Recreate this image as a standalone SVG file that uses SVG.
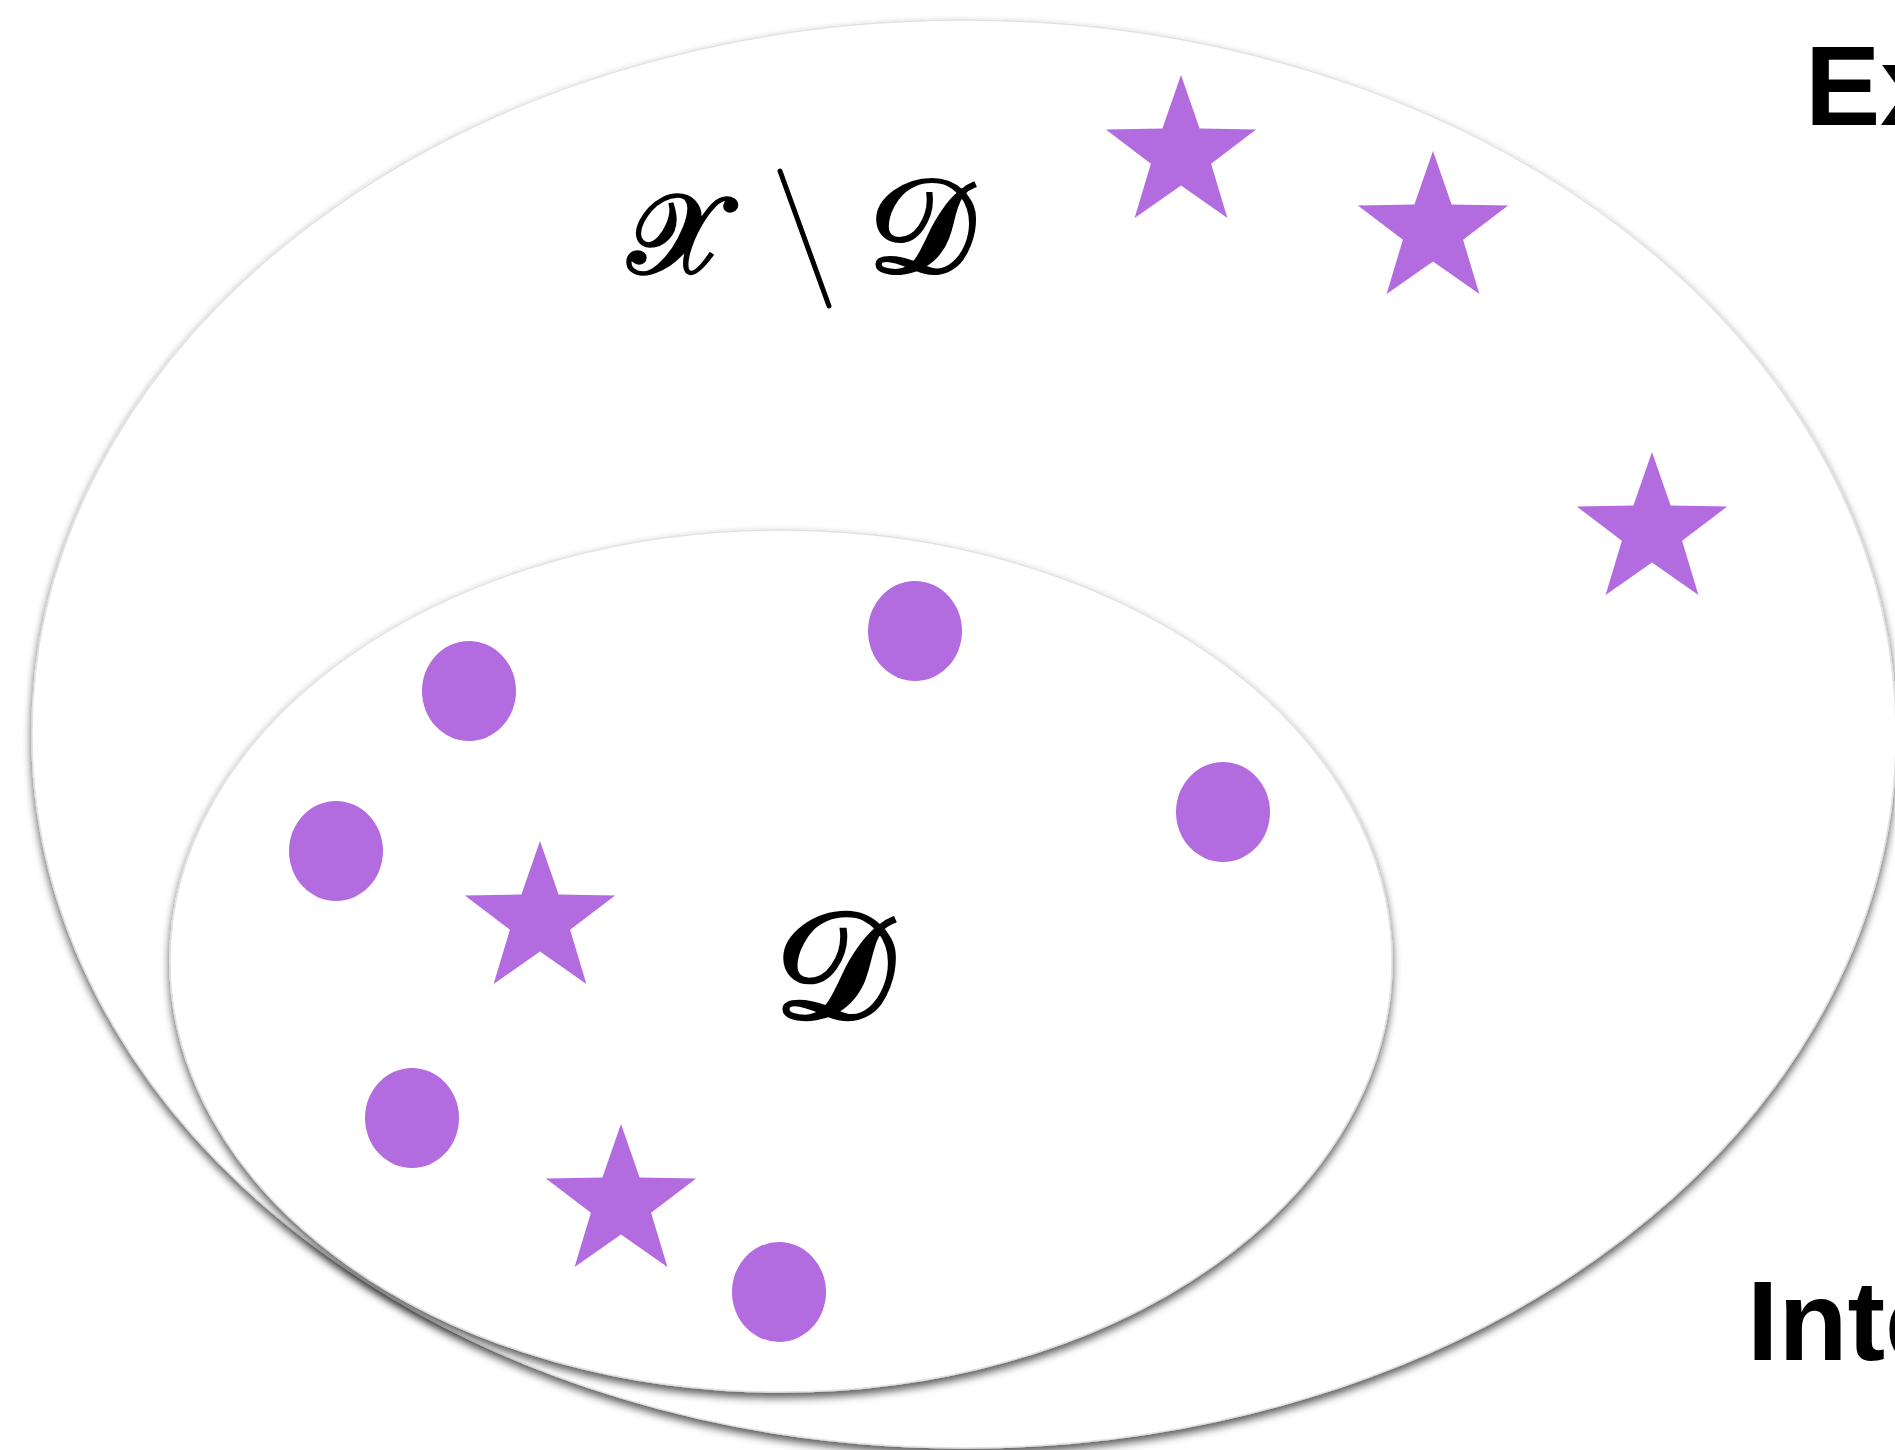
<svg xmlns="http://www.w3.org/2000/svg" width="1895" height="1450" viewBox="0 0 1895 1450">
<style>
.region{fill:#ffffff;stroke:#e2e2e2;stroke-width:1.5;filter:url(#shadow);}
.dot{fill:#b36be0;}
.star{fill:#b36be0;}
.lbl{font-family:"Liberation Sans",Arial,sans-serif;font-weight:bold;font-size:113px;fill:#000;}
.math{font-family:"DejaVu Serif","Noto Sans","Liberation Serif",serif;font-weight:bold;fill:#000;}
</style>
<defs>
<filter id="shadow" x="-10%" y="-10%" width="120%" height="125%">
<feDropShadow dx="0" dy="5" stdDeviation="4" flood-color="#000" flood-opacity="0.65"/>
</filter>
<path id="st" d="M0,-79 L18.6,-25.6 L75.1,-24.4 L30.1,9.8 L46.4,63.9 L0,31.6 L-46.4,63.9 L-30.1,9.8 L-75.1,-24.4 L-18.6,-25.6 Z"/>
</defs>
<rect width="1895" height="1450" fill="#ffffff"/>
<g id="outer-region">
<ellipse class="region" cx="964" cy="734" rx="932" ry="714"/>
</g>
<g id="inner-region">
<ellipse class="region" cx="781" cy="961" rx="611" ry="431"/>
</g>
<g id="label-outside">
<text class="math" x="628" y="273" font-size="112">𝒳</text>
<line x1="780" y1="171" x2="829" y2="306" stroke="#000" stroke-width="5" stroke-linecap="round"/>
<text class="math" x="868" y="272" font-size="133">𝒟</text>
</g>
<g id="label-inside">
<text class="math" x="774" y="1018" font-size="150">𝒟</text>
</g>
<g id="points">
<ellipse class="dot" cx="469" cy="691" rx="47" ry="50"/>
<ellipse class="dot" cx="915" cy="631" rx="47" ry="50"/>
<ellipse class="dot" cx="336" cy="851" rx="47" ry="50"/>
<ellipse class="dot" cx="1223" cy="812" rx="47" ry="50"/>
<ellipse class="dot" cx="412" cy="1118" rx="47" ry="50"/>
<ellipse class="dot" cx="779" cy="1292" rx="47" ry="50"/>
</g>
<g id="stars">
<use href="#st" class="star" x="1181" y="154"/>
<use href="#st" class="star" x="1433" y="230"/>
<use href="#st" class="star" x="1652" y="531"/>
<use href="#st" class="star" x="540" y="920"/>
<use href="#st" class="star" x="621" y="1203"/>
</g>
<g id="label-extrapolation">
<text class="lbl" x="1805" y="125">Extrapolation</text>
</g>
<g id="label-interpolation">
<text class="lbl" x="1747" y="1360">Interpolation</text>
</g>
<g id="connectors"></g>
</svg>
